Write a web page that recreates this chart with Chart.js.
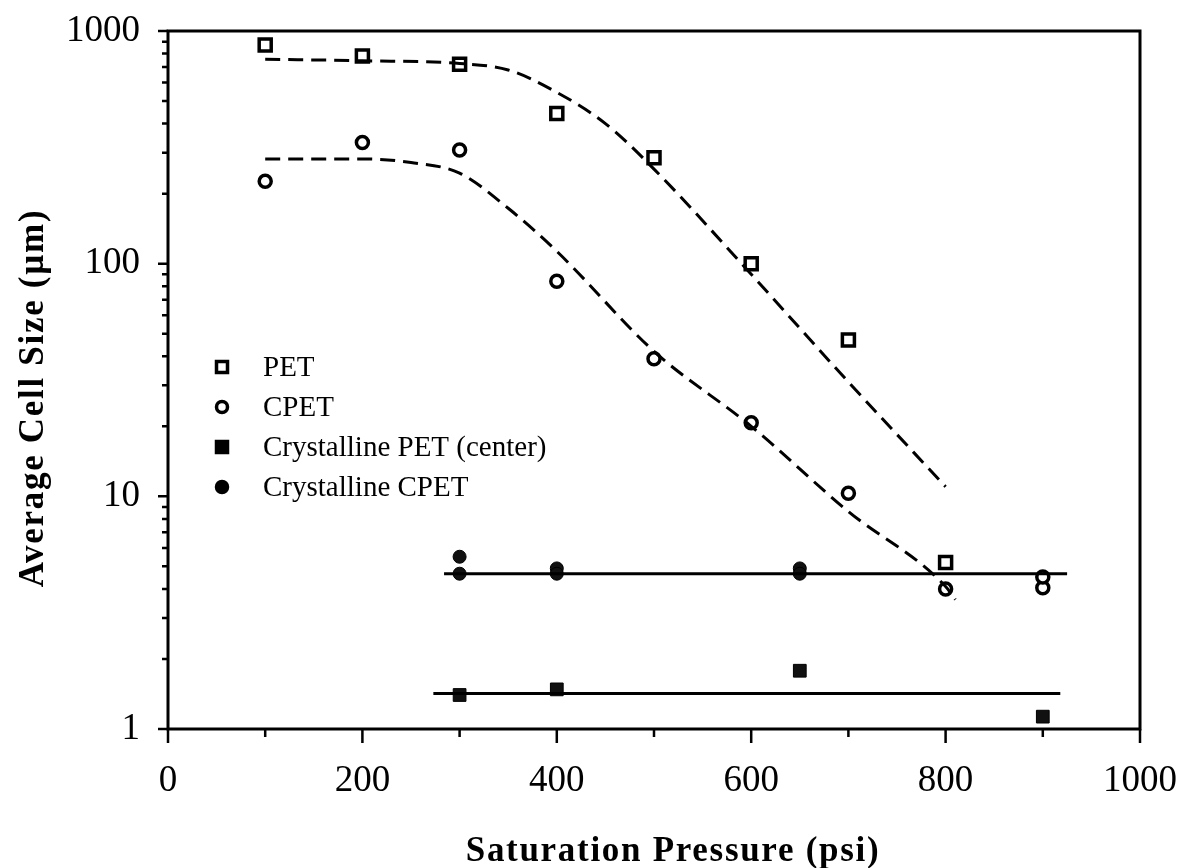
<!DOCTYPE html>
<html>
<head>
<meta charset="utf-8">
<script src="https://cdn.jsdelivr.net/npm/chart.js@4.4.1/dist/chart.umd.min.js"></script>
<style>
  html, body { margin: 0; padding: 0; background: #fff; }
  #wrap { width: 1182px; height: 868px; }
</style>
</head>
<body>
<div id="wrap"><canvas id="cellChart" width="1182" height="868"></canvas></div>
<script>
// measured cell sizes (um) vs saturation pressure (psi)
const petX = [100, 200, 300, 400, 500, 600, 700, 800];
const petY = [870, 780, 720, 442, 285, 100, 47, 5.2];
const cpetX = [100, 200, 300, 400, 500, 600, 700, 800, 900, 900];
const cpetY = [226, 332, 308, 84, 39, 20.7, 10.3, 4.0, 4.05, 4.5];
const crysPetX = [300, 400, 650, 900];
const crysPetY = [1.4, 1.48, 1.78, 1.13];
const crysCpetX = [300, 300, 400, 400, 650, 650];
const crysCpetY = [5.5, 4.65, 4.9, 4.65, 4.9, 4.65];

// trend curves traced along the dashed fits
const petFitX = [100, 200, 300, 350, 400, 450, 500, 600, 700, 800];
const petFitY = [756, 745, 725, 680, 545, 400, 255, 90, 31, 11];
const cpetFitX = [100, 200, 250, 300, 350, 400, 500, 600, 700, 800, 810];
const cpetFitY = [282, 282, 272, 245, 173, 113, 42, 20, 8.6, 4.1, 3.6];
// flat averages for the crystalline samples
const crysCpetFitX = [284, 925];
const crysCpetFitY = [4.65, 4.65];
const crysPetFitX = [273, 918];
const crysPetFitY = [1.42, 1.42];

// axis ticks
const xTicks = [0, 100, 200, 300, 400, 500, 600, 700, 800, 900, 1000];
const xLabelled = [0, 200, 400, 600, 800, 1000];
const yTicks = [1, 2, 3, 4, 5, 6, 7, 8, 9, 10, 20, 30, 40, 50, 60, 70, 80, 90,
                100, 200, 300, 400, 500, 600, 700, 800, 900, 1000];
const yLabelled = [1, 10, 100, 1000];

const legendNames = ['PET', 'CPET', 'Crystalline PET (center)', 'Crystalline CPET'];
const xTitle = 'Saturation Pressure (psi)';
const yTitle = 'Average Cell Size (µm)';

const SERIF = '"Liberation Serif", "Times New Roman", serif';

function pts(xs, ys) {
  return xs.map((x, i) => ({ x: x, y: ys[i] }));
}

// frame round the plot area plus outward tick marks (majors longer)
const frameAndTicks = {
  id: 'frameAndTicks',
  afterDraw(chart) {
    const ctx = chart.ctx;
    const a = chart.chartArea;
    const xs = chart.scales.x, ys = chart.scales.y;
    ctx.save();
    ctx.strokeStyle = '#000';
    ctx.lineWidth = 3;
    ctx.strokeRect(a.left, a.top, a.right - a.left, a.bottom - a.top);
    ctx.lineWidth = 2.5;
    ctx.beginPath();
    xTicks.forEach(v => {
      const px = xs.getPixelForValue(v);
      const len = xLabelled.includes(v) ? 14 : 8;
      ctx.moveTo(px, a.bottom);
      ctx.lineTo(px, a.bottom + len);
    });
    yTicks.forEach(v => {
      const py = ys.getPixelForValue(v);
      const len = yLabelled.includes(v) ? 10 : 6;
      ctx.moveTo(a.left, py);
      ctx.lineTo(a.left - len, py);
    });
    ctx.stroke();
    ctx.restore();
  }
};

// axis titles, slightly letter-spaced
const axisTitles = {
  id: 'axisTitles',
  afterDraw(chart) {
    const ctx = chart.ctx;
    ctx.save();
    ctx.fillStyle = '#000';
    ctx.font = 'bold 35px ' + SERIF;
    ctx.letterSpacing = '1.7px';
    ctx.textAlign = 'center';
    ctx.textBaseline = 'alphabetic';
    ctx.fillText(xTitle, 673, 861);
    ctx.translate(43, 398);
    ctx.rotate(-Math.PI / 2);
    ctx.fillText(yTitle, 0, 0);
    ctx.restore();
  }
};

// legend inside the plot, left side
const innerLegend = {
  id: 'innerLegend',
  afterDraw(chart) {
    const ctx = chart.ctx;
    const styles = [
      { style: 'rect', fill: false },
      { style: 'circle', fill: false },
      { style: 'rect', fill: true },
      { style: 'circle', fill: true }
    ];
    ctx.save();
    ctx.font = '29px ' + SERIF;
    ctx.textBaseline = 'middle';
    ctx.fillStyle = '#000';
    ctx.strokeStyle = '#000';
    legendNames.forEach((name, i) => {
      const y = 367 + i * 40;
      const x = 222;
      const st = styles[i];
      ctx.lineWidth = 3.5;
      ctx.beginPath();
      if (st.style === 'rect') {
        ctx.rect(x - 5.5, y - 5.5, 11, 11);
      } else {
        ctx.arc(x, y, 5.5, 0, Math.PI * 2);
      }
      if (st.fill) { ctx.fill(); }
      ctx.stroke();
      ctx.fillText(name, 263, y + 1);
    });
    ctx.restore();
  }
};

const dashStyle = {
  showLine: true,
  borderColor: '#000',
  borderWidth: 3,
  borderDash: [15, 8],
  pointRadius: 0,
  cubicInterpolationMode: 'monotone'
};

const ctx = document.getElementById('cellChart').getContext('2d');
new Chart(ctx, {
  type: 'scatter',
  data: {
    datasets: [
      Object.assign({ label: 'PET fit', data: pts(petFitX, petFitY) }, dashStyle),
      Object.assign({ label: 'CPET fit', data: pts(cpetFitX, cpetFitY) }, dashStyle),
      {
        label: 'Crystalline CPET fit', data: pts(crysCpetFitX, crysCpetFitY),
        showLine: true, borderColor: '#000', borderWidth: 3, pointRadius: 0
      },
      {
        label: 'Crystalline PET fit', data: pts(crysPetFitX, crysPetFitY),
        showLine: true, borderColor: '#000', borderWidth: 3, pointRadius: 0
      },
      {
        label: legendNames[0], data: pts(petX, petY),
        pointStyle: 'rect', pointRadius: 8.5, borderWidth: 3.5,
        borderColor: '#000', backgroundColor: '#fff'
      },
      {
        label: legendNames[1], data: pts(cpetX, cpetY),
        pointStyle: 'circle', pointRadius: 6, borderWidth: 3.5,
        borderColor: '#000', backgroundColor: '#fff'
      },
      {
        label: legendNames[2], data: pts(crysPetX, crysPetY),
        pointStyle: 'rect', pointRadius: 9, borderWidth: 1,
        borderColor: '#000', backgroundColor: '#111'
      },
      {
        label: legendNames[3], data: pts(crysCpetX, crysCpetY),
        pointStyle: 'circle', pointRadius: 6.5, borderWidth: 1,
        borderColor: '#000', backgroundColor: '#111'
      }
    ]
  },
  options: {
    responsive: false,
    animation: false,
    layout: { padding: { top: 31, right: 42, left: 0, bottom: 0 } },
    plugins: {
      legend: { display: false },
      tooltip: { enabled: false }
    },
    scales: {
      x: {
        type: 'linear',
        min: 0,
        max: 1000,
        afterBuildTicks: scale => { scale.ticks = xTicks.map(v => ({ value: v })); },
        afterFit: scale => {
          scale.height = 139;
          scale.paddingLeft = 0;
          scale.paddingRight = 0;
        },
        grid: { display: false },
        border: { display: false },
        ticks: {
          padding: 22,
          color: '#000',
          font: { family: SERIF, size: 37 },
          maxRotation: 0,
          autoSkip: false,
          callback: v => xLabelled.includes(v) ? String(v) : ''
        },
        title: { display: false }
      },
      y: {
        type: 'logarithmic',
        min: 1,
        max: 1000,
        afterBuildTicks: scale => { scale.ticks = yTicks.map(v => ({ value: v })); },
        afterFit: scale => {
          scale.width = 168;
          scale.paddingTop = 0;
          scale.paddingBottom = 0;
        },
        grid: { display: false },
        border: { display: false },
        ticks: {
          padding: 20,
          color: '#000',
          font: { family: SERIF, size: 37 },
          autoSkip: false,
          callback: v => yLabelled.includes(v) ? String(v) : ''
        },
        title: { display: false }
      }
    }
  },
  plugins: [frameAndTicks, axisTitles, innerLegend]
});
</script>
</body>
</html>
